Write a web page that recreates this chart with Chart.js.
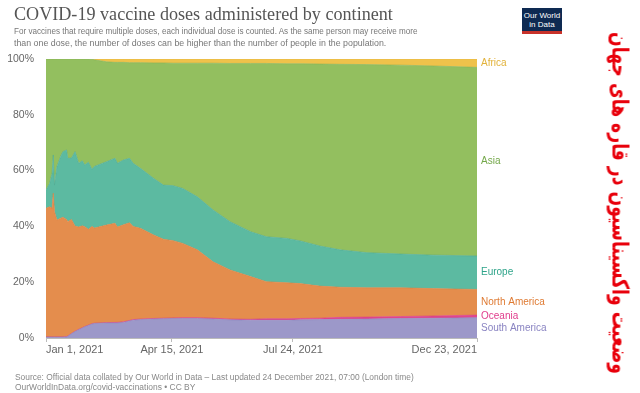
<!DOCTYPE html>
<html>
<head>
<meta charset="utf-8">
<script src="https://cdn.jsdelivr.net/npm/chart.js@4"></script>
<style>
html,body{margin:0;padding:0;background:#fff;width:640px;height:393px;overflow:hidden;font-family:"Liberation Sans",Arial,sans-serif}
#wrap{position:relative;width:640px;height:393px}
#c{position:absolute;left:0;top:0}
.t{position:absolute;white-space:nowrap;transform-origin:0 0}
#ttl{left:14px;top:4px;font-family:"Liberation Serif","Times New Roman",serif;font-size:18.5px;line-height:20px;color:#555}
.sub{left:14px;font-size:9.3px;line-height:11px;color:#777}
.src{left:15px;font-size:8.5px;line-height:10px;color:#888}
#logo{left:522px;top:8px;width:40px;height:26px;background:#0e2a52;color:#fff;font-size:8px;line-height:9px;text-align:center;box-sizing:border-box;padding-top:3px;border-bottom:3px solid #c8322a}
#fa{left:620px;top:203px;transform-origin:50% 50%;font-family:"DejaVu Sans",sans-serif;font-weight:bold;font-size:23px;line-height:26px;color:#e8000b;direction:rtl}
</style>
</head>
<body>
<div id="wrap">
<canvas id="c" width="640" height="393"></canvas>
<div class="t" id="ttl" data-w="379">COVID-19 vaccine doses administered by continent</div>
<div class="t sub" style="top:26px" data-w="404">For vaccines that require multiple doses, each individual dose is counted. As the same person may receive more</div>
<div class="t sub" style="top:38px" data-w="372">than one dose, the number of doses can be higher than the number of people in the population.</div>
<div class="t" id="logo">Our World<br>in Data</div>
<div class="t src" style="top:372px" data-w="399">Source: Official data collated by Our World in Data – Last updated 24 December 2021, 07:00 (London time)</div>
<div class="t src" style="top:382px" data-w="180">OurWorldInData.org/covid-vaccinations • CC BY</div>
<div class="t" id="fa">وضعیت واکسیناسیون در قاره های جهان</div>
</div>
<script>
// days since Jan 1, 2021
const days=[0,3,5,6,7,9,12,14,17,18,21,24,27,30,32,35,38,40,50,57,59,64,69,72,78,89,97,105,113,125,138,152,169,182,199,210,226,243,265,293,320,356];
const tickDays=[0,104,204,356];
const tickLabels=['Jan 1, 2021','Apr 15, 2021','Jul 24, 2021','Dec 23, 2021'];

// share of doses, % (bottom to top)
const southAmerica=[0.3,0.3,0.3,0.3,0.3,0.3,0.3,0.3,0.4,0.6,1.5,2.3,3.0,3.6,4.0,4.5,5.0,5.2,5.4,5.4,5.4,5.6,6.1,6.4,6.6,6.8,6.9,7.0,7.0,7.0,6.8,6.5,6.4,6.4,6.4,6.5,6.6,6.7,6.8,7.0,7.1,7.3];
const oceania=[0.1,0.1,0.1,0.1,0.1,0.1,0.1,0.1,0.1,0.1,0.1,0.1,0.1,0.1,0.1,0.1,0.1,0.1,0.1,0.2,0.2,0.2,0.2,0.2,0.2,0.2,0.2,0.2,0.3,0.3,0.3,0.3,0.3,0.5,0.5,0.5,0.5,0.7,0.7,0.7,0.8,0.9];
const northAmerica=[46.1,46.6,46.1,51.5,44.9,41.9,42.5,42.9,42.0,41.0,40.9,37.7,36.7,36.5,35.8,34.4,34.9,34.1,35.0,35.5,34.2,34.8,35.0,33.4,32.5,29.9,28.3,27.7,26.6,24.3,20.2,17.6,15.3,13.3,12.9,12.5,11.5,10.8,10.5,10.3,9.8,9.2];
const europe=[6.5,8.4,12.5,13.7,9.5,19.1,22.1,23.5,24.9,22.7,22.0,26.7,22.8,23.3,22.1,24.0,20.5,22.1,22.7,23.3,22.8,23.2,23.1,22.6,21.5,20.3,19.4,19.7,19.7,19.0,18.6,17.3,16.1,16.1,15.9,15.3,14.4,13.4,12.6,12.1,12.0,12.0];
const asia=[47.0,44.6,41.0,34.4,45.2,38.6,35.0,33.2,32.6,35.6,35.5,33.2,37.4,36.5,38.0,37.0,39.4,38.2,35.8,34.4,36.2,35.0,34.3,36.1,37.9,41.4,43.8,43.9,44.9,47.9,52.6,56.7,60.3,62.1,62.6,63.5,65.2,66.5,67.4,67.7,67.8,67.6];
const africa=[0,0,0,0,0,0,0,0,0,0,0,0,0,0,0,0,0.1,0.3,1.0,1.2,1.2,1.2,1.3,1.3,1.3,1.4,1.4,1.5,1.5,1.5,1.5,1.6,1.6,1.6,1.7,1.7,1.8,1.9,2.0,2.2,2.5,3.0];

const names=['South America','Oceania','North America','Europe','Asia','Africa'];
const fills=['#9c98c9','#e0468f','#e48d4d','#5cbaa1','#93bf5f','#efc24b'];
const lines=['#8a85bd','#d63a84','#d97f3f','#4daa92','#86b255','#e6b63e'];
const textCols=['#8a84c2','#e03c8c','#df7a32','#2fa48a','#74a84a','#e2b23a'];
const series=[southAmerica,oceania,northAmerica,europe,asia,africa];

// squeeze text lines to the widths seen in the reference
document.querySelectorAll('[data-w]').forEach(el=>{
  el.style.transform=`scaleX(${(+el.dataset.w)/el.offsetWidth})`;
});
const fa=document.getElementById('fa');
const faW=fa.offsetWidth,faH=fa.offsetHeight;
fa.style.left=(620-faW/2)+'px';fa.style.top=(203-faH/2)+'px';
fa.style.transform=`rotate(90deg) scaleX(${342/faW})`;

Chart.defaults.font.family='"Liberation Sans", Arial, sans-serif';

const endLabels={
  id:'endLabels',
  afterDraw(chart){
    const ctx=chart.ctx, a=chart.chartArea, n=days.length-1;
    let prev=a.bottom, pos=[];
    chart.data.datasets.forEach((ds,i)=>{
      const y=chart.getDatasetMeta(i).data[n].y;
      pos.push((y+prev)/2); prev=y;
    });
    for(let i=1;i<pos.length;i++){ if(pos[i-1]-pos[i]<11) pos[i]=pos[i-1]-11; }
    ctx.save();
    ctx.font='10px "Liberation Sans", Arial, sans-serif';
    ctx.textBaseline='middle';
    pos.forEach((y,i)=>{ctx.fillStyle=textCols[i];ctx.fillText(names[i],a.right+4,y);});
    ctx.restore();
  }
};

new Chart(document.getElementById('c'),{
  type:'line',
  data:{labels:days,datasets:series.map((s,i)=>({
    label:names[i],data:s,fill:i===0?'origin':'-1',
    backgroundColor:fills[i],borderColor:lines[i],borderWidth:0.6,
    pointRadius:0,tension:0
  }))},
  options:{
    responsive:false,animation:false,
    layout:{padding:{left:0,right:163,top:59,bottom:30}},
    plugins:{legend:{display:false},tooltip:{enabled:false}},
    scales:{
      x:{type:'linear',min:0,max:356,
        afterBuildTicks:s=>{s.ticks=tickDays.map(v=>({value:v}));},
        afterFit:s=>{s.height=25;},
        grid:{display:true,drawOnChartArea:false,drawTicks:true,tickLength:4,color:'#bbb'},
        border:{display:true,color:'#bbb'},
        ticks:{align:'inner',maxRotation:0,autoSkip:false,padding:1,color:'#666',font:{size:11},
          callback:v=>tickLabels[tickDays.indexOf(v)]}},
      y:{stacked:true,min:0,max:100,
        afterFit:s=>{s.width=46;},
        grid:{display:false},border:{display:false},
        ticks:{stepSize:20,padding:4,color:'#666',font:{size:10.5},callback:v=>v+'%'}}
    }
  },
  plugins:[endLabels]
});
</script>
</body>
</html>
